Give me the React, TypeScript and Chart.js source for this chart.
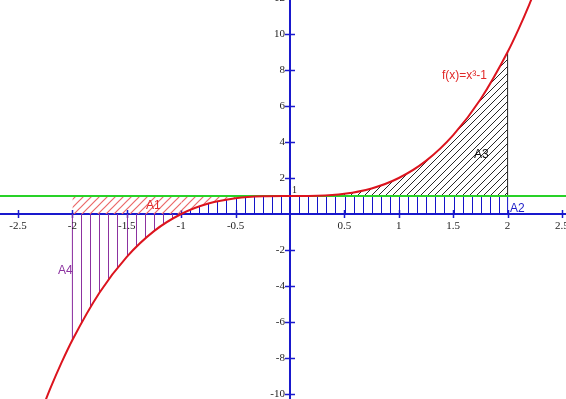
import { useEffect, useRef } from "react";
import { Chart, registerables } from "chart.js";
Chart.register(...registerables);

const X_MIN = -2.6654;
const X_MAX = 2.5368;
const Y_MIN = -10.278;
const Y_MAX = 11.889;

// f(x) = x^3 + 1
const curveX = [-2.3, -2.2, -2.1, -2, -1.75, -1.5, -1.25, -1, -0.75, -0.5, -0.25, 0, 0.25, 0.5, 0.75, 1, 1.25, 1.5, 1.75, 2, 2.1, 2.2, 2.3];
const curveY = [-11.17, -9.65, -8.26, -7, -4.36, -2.38, -0.95, 0, 0.58, 0.875, 0.984, 1, 1.016, 1.125, 1.42, 2, 2.95, 4.38, 6.36, 9, 10.26, 11.65, 13.17];

const xTicks = [-2.5, -2, -1.5, -1, -0.5, 0.5, 1, 1.5, 2, 2.5];
const xTickLabels = ["-2.5", "-2", "-1.5", "-1", "-0.5", "0.5", "1", "1.5", "2", "2.5"];
const yTicks = [-10, -8, -6, -4, -2, 2, 4, 6, 8, 10, 12];
const yTickLabels = ["-10", "-8", "-6", "-4", "-2", "2", "4", "6", "8", "10", "12"];

const hLineY = 1;
const hLineX = [-3, 3];
const a1RectX = [-2, -1];
const a2RectX = [0, 2];
const a4EdgeY = [-7, 0];
const a3EdgeY = [1, 9];
const a2EdgeY = [0, 1];
const hatchPerUnit = 12;

const pts = (lo: number, hi: number) =>
  curveX.map((x, i) => ({ x, y: curveY[i] })).filter((p) => p.x >= lo - 1e-9 && p.x <= hi + 1e-9);

function makeDiag(color: string, size: number, lw: number): CanvasPattern {
  const c = document.createElement("canvas");
  c.width = size;
  c.height = size;
  const g = c.getContext("2d")!;
  g.strokeStyle = color;
  g.lineWidth = lw;
  g.beginPath();
  g.moveTo(-1, size + 1);
  g.lineTo(size + 1, -1);
  g.moveTo(-2, 2);
  g.lineTo(2, -2);
  g.moveTo(size - 2, size + 2);
  g.lineTo(size + 2, size - 2);
  g.stroke();
  return g.createPattern(c, "repeat")!;
}

const vcache: Record<string, CanvasPattern> = {};
function vertPattern(chart: any, key: string, color: string, originX: number) {
  if (vcache[key]) return vcache[key];
  const xs = chart.scales.x;
  const w = Math.round(xs.getPixelForValue(1) - xs.getPixelForValue(0));
  const c = document.createElement("canvas");
  c.width = w;
  c.height = 1;
  const g = c.getContext("2d")!;
  g.fillStyle = color;
  for (let i = 0; i < hatchPerUnit; i++) g.fillRect(Math.round((i * w) / hatchPerUnit), 0, 1, 1);
  const p = chart.ctx.createPattern(c, "repeat");
  const ox = Math.round(xs.getPixelForValue(originX));
  p.setTransform(new DOMMatrix([1, 0, 0, 1, ox, 0]));
  vcache[key] = p;
  return p;
}

const blueHatch = (ctx: any) => (ctx.chart.chartArea ? vertPattern(ctx.chart, "blue", "rgb(20,20,200)", -1) : "transparent");
const purpleHatch = (ctx: any) => (ctx.chart.chartArea ? vertPattern(ctx.chart, "purple", "rgb(140,50,160)", -2) : "transparent");

const AXIS = "rgb(25,25,205)";

const axesPlugin = {
  id: "axesPlugin",
  beforeDatasetsDraw(chart: any) {
    const { ctx, scales } = chart;
    const xs = scales.x;
    const ys = scales.y;
    const x0 = xs.getPixelForValue(0);
    const y0 = ys.getPixelForValue(0);
    ctx.save();
    ctx.strokeStyle = AXIS;
    ctx.lineWidth = 2;
    ctx.beginPath();
    ctx.moveTo(0, y0);
    ctx.lineTo(chart.width, y0);
    ctx.moveTo(x0, 0);
    ctx.lineTo(x0, chart.height);
    ctx.stroke();
    ctx.lineWidth = 1.5;
    ctx.beginPath();
    xTicks.forEach((v) => {
      const px = Math.round(xs.getPixelForValue(v)) + 0.5;
      ctx.moveTo(px, y0 - 4);
      ctx.lineTo(px, y0 + 4);
    });
    yTicks.forEach((v) => {
      const py = Math.round(ys.getPixelForValue(v)) + 0.5;
      ctx.moveTo(x0 - 5, py);
      ctx.lineTo(x0 + 5, py);
    });
    ctx.stroke();
    ctx.restore();
  },
  afterDatasetsDraw(chart: any) {
    const { ctx, scales } = chart;
    const xs = scales.x;
    const ys = scales.y;
    const x0 = xs.getPixelForValue(0);
    const y0 = ys.getPixelForValue(0);
    ctx.save();
    ctx.fillStyle = "#222";
    ctx.font = '11px "Liberation Serif", serif';
    ctx.textAlign = "center";
    ctx.textBaseline = "middle";
    xTicks.forEach((v, i) => {
      ctx.fillText(xTickLabels[i], xs.getPixelForValue(v), y0 + 12);
    });
    ctx.textAlign = "right";
    yTicks.forEach((v, i) => {
      ctx.fillText(yTickLabels[i], x0 - 5, ys.getPixelForValue(v));
    });
    ctx.textAlign = "left";
    ctx.textBaseline = "bottom";
    ctx.font = '10px "Liberation Serif", serif';
    ctx.fillText("1", x0 + 2, ys.getPixelForValue(1) - 1);

    ctx.font = '12px "Liberation Sans", sans-serif';
    ctx.textBaseline = "middle";
    ctx.fillStyle = "rgb(225,40,40)";
    ctx.fillText("A1", 146, 206);
    ctx.fillStyle = "rgb(30,30,200)";
    ctx.fillText("A2", 510, 209);
    ctx.fillStyle = "#111";
    ctx.fillText("A3", 474, 155);
    ctx.fillStyle = "rgb(140,50,160)";
    ctx.fillText("A4", 58, 271);
    ctx.fillStyle = "rgb(225,40,40)";
    ctx.fillText("f(x)=x³-1", 442, 76);
    ctx.restore();
  },
};

export default function App() {
  const ref = useRef<HTMLCanvasElement>(null);
  useEffect(() => {
    if (!ref.current) return;
    const redHatch = makeDiag("rgb(235,105,105)", 8, 1.2);
    const blackHatch = makeDiag("rgb(40,40,40)", 7, 1);
    const common = { pointRadius: 0, borderWidth: 0, cubicInterpolationMode: "monotone" as const };
    const chart = new Chart(ref.current, {
      type: "line",
      data: {
        datasets: [
          {
            label: "f",
            data: curveX.map((x, i) => ({ x, y: curveY[i] })),
            borderColor: "rgb(220,20,30)",
            borderWidth: 2,
            pointRadius: 0,
            cubicInterpolationMode: "monotone",
            fill: false,
            order: 0,
          },
          {
            label: "y=1",
            data: hLineX.map((x) => ({ x, y: hLineY })),
            borderColor: "rgb(40,210,40)",
            borderWidth: 2,
            pointRadius: 0,
            fill: false,
            order: 1,
          },
          {
            label: "A3 edge",
            data: a3EdgeY.map((y) => ({ x: 2, y })),
            borderColor: "#222",
            borderWidth: 1,
            pointRadius: 0,
            fill: false,
            order: 2,
          },
          {
            label: "A2 edge",
            data: a2EdgeY.map((y) => ({ x: 2, y })),
            borderColor: "rgb(20,20,200)",
            borderWidth: 1,
            pointRadius: 0,
            fill: false,
            order: 2,
          },
          {
            label: "A4 edge",
            data: a4EdgeY.map((y) => ({ x: -2, y })),
            borderColor: "rgb(140,50,160)",
            borderWidth: 1,
            pointRadius: 0,
            fill: false,
            order: 2,
          },
          { label: "A3", data: pts(0, 2), ...common, backgroundColor: blackHatch, fill: { value: 1, above: blackHatch, below: blackHatch }, order: 3 },
          { label: "A1a", data: a1RectX.map((x) => ({ x, y: 0 })), ...common, backgroundColor: redHatch, fill: { value: 1, above: redHatch, below: redHatch }, order: 3 },
          { label: "A1b", data: pts(-1, 0), ...common, backgroundColor: redHatch, fill: { value: 1, above: redHatch, below: redHatch }, order: 3 },
          { label: "A2a", data: pts(-1, 0), ...common, backgroundColor: blueHatch, fill: "origin", order: 3 },
          { label: "A2b", data: a2RectX.map((x) => ({ x, y: 1 })), ...common, backgroundColor: blueHatch, fill: "origin", order: 3 },
          { label: "A4", data: pts(-2, -1), ...common, backgroundColor: purpleHatch, fill: "origin", order: 3 },
        ] as any,
      },
      options: {
        animation: false,
        responsive: false,
        maintainAspectRatio: false,
        layout: { padding: 0 },
        plugins: { legend: { display: false }, tooltip: { enabled: false } },
        scales: {
          x: { type: "linear", min: X_MIN, max: X_MAX, display: false },
          y: { type: "linear", min: Y_MIN, max: Y_MAX, display: false },
        },
      },
      plugins: [axesPlugin],
    });
    return () => chart.destroy();
  }, []);
  return (
    <div style={{ position: "fixed", left: 0, top: 0, width: 566, height: 399, background: "#fff" }}>
      <canvas ref={ref} width={566} height={399} style={{ display: "block" }} />
    </div>
  );
}
